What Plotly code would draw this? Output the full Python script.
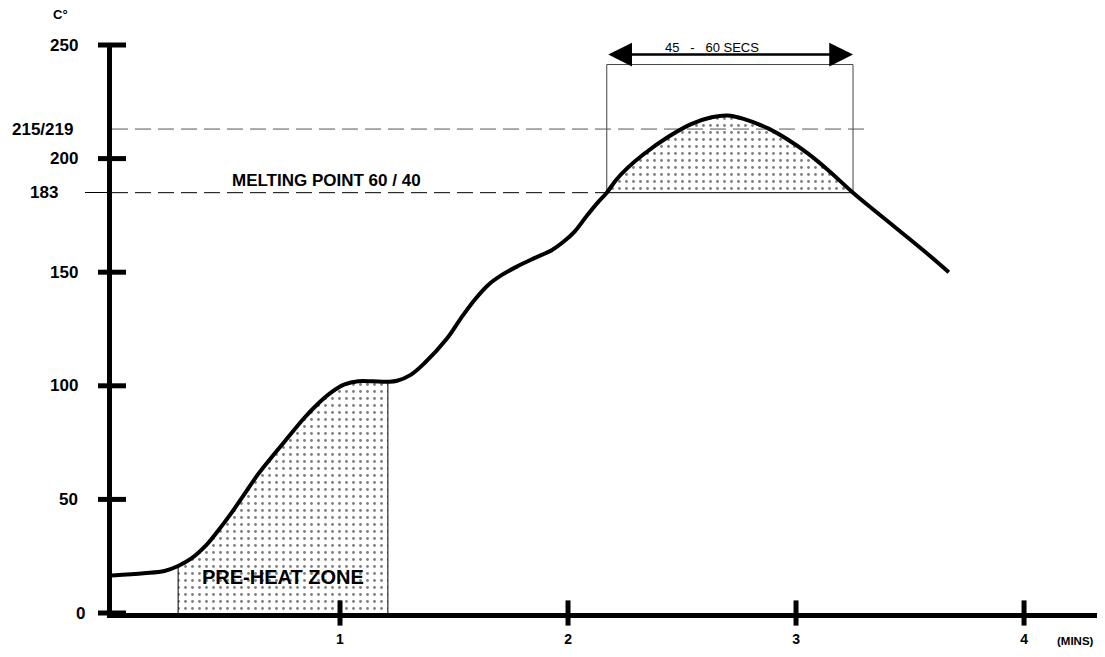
import plotly.graph_objects as go
import numpy as np

# ---- data ----
time_min = [0.00, 0.14, 0.23, 0.29, 0.35, 0.41, 0.46, 0.52, 0.58, 0.64, 0.70, 0.76, 0.84, 0.90,
            0.96, 1.02, 1.08, 1.14, 1.21, 1.25, 1.31, 1.37, 1.47, 1.53, 1.59, 1.65, 1.71, 1.78,
            1.85, 1.93, 1.98, 2.03, 2.08, 2.13, 2.17, 2.21, 2.26, 2.33, 2.44, 2.54, 2.63, 2.70,
            2.77, 2.88, 2.96, 3.05, 3.14, 3.25, 3.34, 3.46, 3.58, 3.67]
temp_c = [16.5, 17.5, 18.5, 20.7, 24.1, 29.5, 35.5, 43.5, 52.2, 61.0, 68.6, 75.8, 85.5, 91.8,
          97.0, 100.6, 102.0, 102.0, 101.8, 102.2, 104.8, 109.9, 120.9, 129.7, 137.8, 144.4, 148.8, 152.7,
          156.1, 159.8, 163.4, 168.0, 174.5, 180.6, 185.0, 190.5, 195.8, 201.8, 209.6, 215.2, 218.2, 219.0,
          217.5, 213.2, 208.6, 202.4, 195.0, 185.0, 177.5, 167.7, 157.8, 150.0]

y_ticks = [0, 50, 100, 150, 200, 250]
x_ticks = [1, 2, 3, 4]

preheat_start, preheat_end = 0.29, 1.21
melt_level = 185          # drawn position of the "183" line
peak_level = 213          # drawn position of the "215/219" line
peak_line_end = 3.31
window_start, window_end, window_top = 2.17, 3.25, 241.4
arrow_level = 245.8

X_MAX, Y_MAX = 4.32, 250
FONT = "Liberation Sans"
t = np.array(time_min)
T = np.array(temp_c)
DOTS = dict(shape=".", size=7, solidity=0.13, fgcolor="black", bgcolor="white")
SMOOTH = 1.0

fig = go.Figure()

# pre-heat shaded zone
m = (t >= preheat_start) & (t <= preheat_end)
fig.add_trace(go.Scatter(x=t[m], y=T[m], mode="lines", line=dict(width=0, shape="spline", smoothing=SMOOTH),
                         fill="tozeroy", fillcolor="white", fillpattern=DOTS,
                         hoverinfo="skip", showlegend=False))
for xe in (preheat_start, preheat_end):
    ye = T[t == xe][0]
    fig.add_trace(go.Scatter(x=[xe, xe], y=[0, ye], mode="lines", line=dict(color="black", width=1),
                             hoverinfo="skip", showlegend=False))

# reflow window box
fig.add_trace(go.Scatter(x=[window_start, window_start, window_end, window_end],
                         y=[melt_level, window_top, window_top, melt_level], mode="lines",
                         line=dict(color="#444", width=1), hoverinfo="skip", showlegend=False))

# melting zone shading (between melt level and curve)
m2 = (t >= window_start) & (t <= window_end)
fig.add_trace(go.Scatter(x=[window_start, window_end], y=[melt_level, melt_level], mode="lines",
                         line=dict(color="black", width=1), hoverinfo="skip", showlegend=False))
fig.add_trace(go.Scatter(x=t[m2], y=T[m2], mode="lines", line=dict(width=0, shape="spline", smoothing=SMOOTH),
                         fill="tonexty", fillcolor="white", fillpattern=DOTS,
                         hoverinfo="skip", showlegend=False))

# dashed reference lines
fig.add_trace(go.Scatter(x=[0, peak_line_end], y=[peak_level, peak_level], mode="lines",
                         line=dict(color="#555", width=1, dash="16px,7px"), hoverinfo="skip", showlegend=False))
fig.add_trace(go.Scatter(x=[0, window_start], y=[melt_level, melt_level], mode="lines", yaxis="y2",
                         line=dict(color="black", width=1, dash="16px,7px"), hoverinfo="skip", showlegend=False))

# main profile curve
fig.add_trace(go.Scatter(x=t, y=T, mode="lines",
                         line=dict(color="black", width=4, shape="spline", smoothing=SMOOTH),
                         hoverinfo="skip", showlegend=False))

# axis cross-bar ticks
fig.add_trace(go.Scatter(x=[0] * len(y_ticks), y=y_ticks, mode="markers", cliponaxis=False,
                         marker=dict(symbol="line-ew", size=20, line=dict(color="black", width=5)),
                         hoverinfo="skip", showlegend=False))
fig.add_trace(go.Scatter(x=x_ticks, y=[0] * len(x_ticks), mode="markers", cliponaxis=False,
                         marker=dict(symbol="line-ns", size=18, line=dict(color="black", width=5)),
                         hoverinfo="skip", showlegend=False))


def P(x, y, xanchor="center"):
    return dict(x=x / X_MAX, y=y / Y_MAX, xref="paper", yref="paper", xanchor=xanchor, yanchor="middle")


# y-axis value labels (right-aligned left of the axis)
for v in y_ticks:
    xr = -0.110 if v == 0 else -0.140
    fig.add_annotation(text=f"<b>{v}</b>", showarrow=False,
                       font=dict(family=FONT, size=17, color="black"), **P(xr, v, "right"))

texts = [
    ("<b>C°</b>", -0.224, 263.5, 13),
    ("<b>183</b>", -0.30, melt_level, 17),
    ("<b>215/219</b>", -0.305, peak_level, 17),
    ("<b>MELTING POINT 60 / 40</b>", 0.94, 190.2, 17),
    ("<b>PRE-HEAT ZONE</b>", 0.75, 15.8, 20),
    ("<b>(MINS)</b>", 4.225, -12.3, 11.5),
    ("45 &nbsp;&nbsp;-&nbsp;&nbsp; 60 SECS", 2.63, 248.8, 13),
]
for txt, x, y, s in texts:
    fig.add_annotation(text=txt, showarrow=False, font=dict(family=FONT, size=s, color="black"), **P(x, y))

fig.add_annotation(x=window_end, y=arrow_level, ax=window_start, ay=arrow_level, xref="x", yref="y",
                   axref="x", ayref="y", text="", showarrow=True, arrowside="end+start",
                   arrowhead=2, startarrowhead=2, arrowsize=1.9, startarrowsize=1.9,
                   arrowwidth=2.5, arrowcolor="black", standoff=0, startstandoff=0)

# page body has an 8px margin, so the figure is sized/offset to land on the 1105x657 window
fig.update_layout(
    width=1089, height=641,
    margin=dict(l=104, r=0, t=37, b=36, autoexpand=False),
    plot_bgcolor="white", paper_bgcolor="white",
    xaxis=dict(range=[0, X_MAX], showgrid=False, zeroline=False, showline=True, linewidth=5,
               linecolor="black", tickvals=x_ticks, ticktext=[f"<b>{v}</b>" for v in x_ticks],
               ticks="", ticklabelstandoff=9, automargin=False,
               tickfont=dict(family=FONT, size=14, color="black")),
    yaxis=dict(range=[0, Y_MAX], showgrid=False, zeroline=False, showline=True, linewidth=5,
               linecolor="black", showticklabels=False, ticks="", automargin=False),
    yaxis2=dict(range=[0, Y_MAX], overlaying="y", side="left", showgrid=False, zeroline=False,
                showline=False, tickvals=[melt_level], ticks="outside", ticklen=26, tickwidth=1,
                tickcolor="black", showticklabels=False, automargin=False),
    showlegend=False,
)

fig.write_html("out.html")
